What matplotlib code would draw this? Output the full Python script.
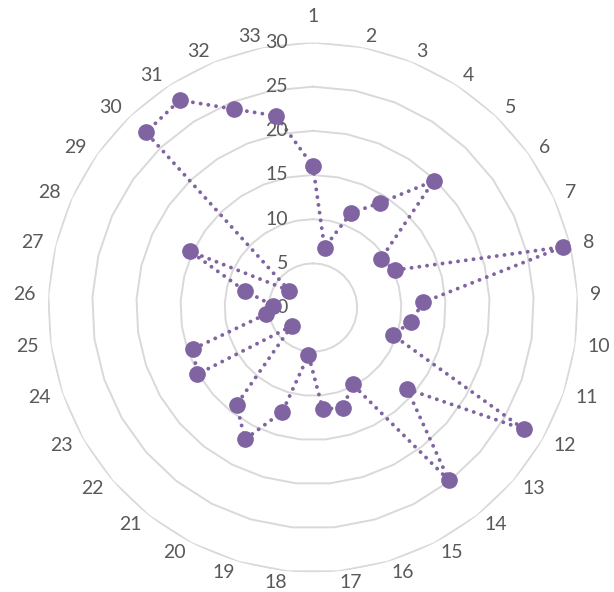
import numpy as np
import matplotlib
matplotlib.use("Agg")
import matplotlib.pyplot as plt

categories = [str(i) for i in range(1, 34)]
values = [16.0, 6.9, 11.5, 14.1, 19.8, 9.4, 10.2, 29.1, 12.5, 11.2, 9.6, 27.6,
          14.1, 24.9, 9.8, 11.9, 11.5, 5.4, 12.3, 16.8, 14.0, 3.2, 15.1, 14.4,
          5.4, 4.5, 7.9, 15.3, 3.3, 27.4, 27.9, 24.2, 22.1]
radial_ticks = [0, 5, 10, 15, 20, 25, 30]

purple = "#8064A2"
grid_c = "#D9D9D9"
text_c = "#595959"
font = ["Lato", "DejaVu Sans"]

fig = plt.figure(figsize=(6.14, 5.92), dpi=100)
W, H = 614, 592
cx, cy, R = 313, 307.5, 265
ax = fig.add_axes([(cx - R) / W, (H - cy - R) / H, 2 * R / W, 2 * R / H], projection="polar")
ax.set_theta_zero_location("N")
ax.set_theta_direction(-1)
ax.set_ylim(0, 30)
ax.grid(False)
ax.spines["polar"].set_visible(False)
ax.set_xticks([])
ax.set_yticks([])
ax.patch.set_alpha(0)

n = len(categories)
theta = np.arange(n) * 2 * np.pi / n
theta_c = np.append(theta, theta[0])

for rt in radial_ticks[1:]:
    ax.plot(theta_c, [rt] * (n + 1), color=grid_c, lw=1.4, zorder=1)

vals_c = values + [values[0]]
ax.plot(theta_c, vals_c, color=purple, lw=2.8, linestyle=(0, (0.01, 2.0)),
        dash_capstyle="round", zorder=3)
ax.plot(theta, values, linestyle="none", marker="o", markersize=11,
        color=purple, zorder=4)

rmax = radial_ticks[-1]
for t, lab in zip(theta, categories):
    s, c = np.sin(t), np.cos(t)
    if abs(s) < 0.01:
        ha = "center"
        dx, dy = 0, (26 if c > 0 else -26)
    else:
        ha = "left" if s > 0 else "right"
        dx, dy = 12.5 * s, 11 * c
    ax.annotate(lab, xy=(t, rmax), xytext=(dx, dy), textcoords="offset pixels",
                ha=ha, va="center", fontsize=14, color=text_c, family=font,
                annotation_clip=False)

for rt in radial_ticks:
    ax.annotate(str(rt), xy=(0, rt), xytext=(-25, 0), textcoords="offset pixels",
                ha="right", va="center", fontsize=14, color=text_c, family=font)

fig.savefig("out.png", dpi=100)
